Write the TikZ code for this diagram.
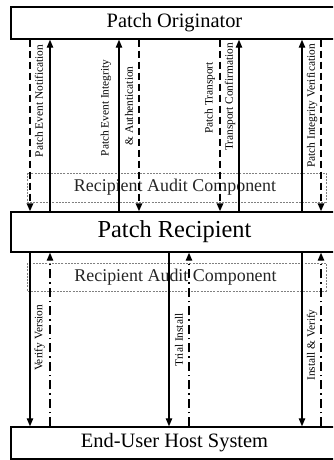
\documentclass[tikz,border=0pt]{standalone}
\usepackage{fontspec}
\setmainfont{Liberation Serif}
\usetikzlibrary{arrows.meta}
\begin{document}
\begin{tikzpicture}[x=1bp,y=-1bp,
  bigbox/.style={draw, line width=1.5pt, minimum width=327bp, inner sep=0pt, anchor=center},
  auditbox/.style={draw=gray, line width=0.5pt, dash pattern=on 2bp off 1.2bp},
  audittext/.style={font=\fontsize{18}{20}\selectfont, text=black!85, inner sep=0pt},
  lbl/.style={rotate=90, font=\fontsize{11.4}{12}\selectfont, inner sep=0pt},
  tip/.style={-{Triangle[length=8bp,width=6.5bp]}},
  sol/.style={tip, line width=1.2pt},
  dsh/.style={tip, line width=1.7pt, dash pattern=on 7bp off 4bp},
  ddot/.style={tip, line width=1.3pt, dash pattern=on 9bp off 4bp on 1.5bp off 4bp}]
\clip (0,0) rectangle (333,460);
\fill[white] (0,0) rectangle (333,460);
% boxes
\node[bigbox, minimum height=32bp, font=\fontsize{20.5}{22}\selectfont] (orig) at (174.5,23) {Patch Originator};
\node[bigbox, minimum height=40bp, font=\fontsize{24.5}{26}\selectfont] (recip) at (174.5,232) {Patch Recipient};
\node[bigbox, minimum height=32bp, font=\fontsize{20.5}{22}\selectfont] (host) at (174.5,443) {End-User Host System};
% audit components
\draw[auditbox] (27,173) rectangle (326,202);
\node[audittext] (aud1) at (175,187.5) {Recipient Audit Component};
\draw[auditbox] (27,263) rectangle (326,291);
\node[audittext] (aud2) at (175.5,277) {Recipient Audit Component};
% x positions
\foreach \n/\x in {u1/30,u2/50,u3/119,u4/139,u5/220,u6/239,u7/302,u8/321,
                   l1/30,l2/50,l3/169,l4/189,l5/302,l6/321}
  \coordinate (\n) at (\x,0);
% upper arrows
\draw[dsh] (orig.south -| u1) -- (recip.north -| u1);
\draw[sol] (recip.north -| u2) -- (orig.south -| u2);
\draw[sol] (recip.north -| u3) -- (orig.south -| u3);
\draw[dsh] (orig.south -| u4) -- (recip.north -| u4);
\draw[dsh] (orig.south -| u5) -- (recip.north -| u5);
\draw[sol] (recip.north -| u6) -- (orig.south -| u6);
\draw[sol] (recip.north -| u7) -- (orig.south -| u7);
\draw[dsh] (orig.south -| u8) -- (recip.north -| u8);
% lower arrows
\draw[sol] (recip.south -| l1) -- (host.north -| l1);
\draw[ddot] (host.north -| l2) -- (recip.south -| l2);
\draw[sol] (recip.south -| l3) -- (host.north -| l3);
\draw[ddot] (host.north -| l4) -- (recip.south -| l4);
\draw[sol] (recip.south -| l5) -- (host.north -| l5);
\draw[ddot] (host.north -| l6) -- (recip.south -| l6);
% labels
\node[lbl] (t1) at (39,101) {Patch Event Notification};
\node[lbl] (t2) at (106,108) {Patch Event Integrity};
\node[lbl] (t3) at (129,106) {\& Authentication};
\node[lbl] (t4) at (210,98) {Patch Transport};
\node[lbl] (t5) at (230,97) {Transport Confirmation};
\node[lbl] (t6) at (312,106) {Patch Integrity Verification};
\node[lbl] (t7) at (39.5,338) {Verify Version};
\node[lbl] (t8) at (179,340) {Trial Install};
\node[lbl] (t9) at (312,345) {Install \& Verify};
\end{tikzpicture}
\end{document}
